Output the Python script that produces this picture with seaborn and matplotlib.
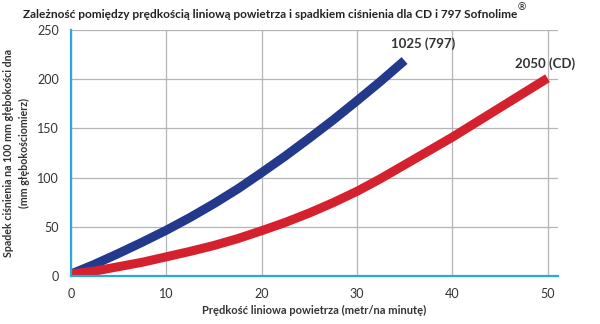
import matplotlib
matplotlib.use("Agg")
import matplotlib.pyplot as plt
import seaborn as sns
import pandas as pd

# Data
blue_x = [0, 2.5, 5, 7.5, 10, 12.5, 15, 17.5, 20, 22.5, 25, 27.5, 30, 32.5, 35]
blue_y = [2, 12, 23, 34.5, 46.5, 59.5, 73.5, 88.5, 105, 122, 140, 158.5, 178, 198, 219]
red_x = [0, 2.5, 5, 7.5, 10, 12.5, 15, 17.5, 20, 22.5, 25, 27.5, 30, 32.5,
         35, 37.5, 40, 42.5, 45, 47.5, 50]
red_y = [2, 5, 9.5, 14, 19.5, 25, 31, 38, 46, 54.5, 64, 74.5, 86, 99,
         113, 127, 141, 156, 171, 186, 201]
series_names = ["1025 (797)", "2050 (CD)"]
x_ticks = [0, 10, 20, 30, 40, 50]
y_ticks = [0, 50, 100, 150, 200, 250]

df = pd.concat([
    pd.DataFrame({"x": blue_x, "y": blue_y, "s": series_names[0]}),
    pd.DataFrame({"x": red_x, "y": red_y, "s": series_names[1]}),
])

sns.set_style("white")
plt.rcParams["font.family"] = ["Lato", "DejaVu Sans"]

fig = plt.figure(figsize=(6, 3.24), dpi=100)
ax = fig.add_axes([71/600, 48/324, (558-71)/600, (276-30)/324])

palette = {series_names[0]: "#22398c", series_names[1]: "#d5212e"}
sns.lineplot(data=df, x="x", y="y", hue="s", palette=palette, ax=ax,
             linewidth=6.5, legend=False, sort=True)
for ln in ax.lines:
    ln.set_solid_capstyle("butt")
    ln.set_solid_joinstyle("round")
    ln.set_zorder(3)

ax.set_xlim(0, 51.1)
ax.set_ylim(0, 250)
ax.set_xticks(x_ticks)
ax.set_yticks(y_ticks)
ax.grid(True, color="#b5b5b5", linewidth=0.9)
ax.set_axisbelow(True)
for side in ["top", "right"]:
    ax.spines[side].set_visible(False)
for side in ["left", "bottom"]:
    ax.spines[side].set_color("#2aa9e0")
    ax.spines[side].set_linewidth(1.6)
    ax.spines[side].set_zorder(4)
ax.tick_params(axis="both", colors="#2aa9e0", width=1.6, length=5,
               labelcolor="#333333", labelsize=9, direction="out")

ax.set_xlabel("Prędkość liniowa powietrza (metr/na minutę)", fontsize=8,
              fontweight="bold", color="#333333", labelpad=4)
ax.set_ylabel("Spadek ciśnienia na 100 mm głębokości dna\n(mm głębokościomierz)",
              fontsize=7.7, fontweight="bold", color="#333333", labelpad=5,
              linespacing=1.6)

ax.text(33.6, 236, series_names[0], fontsize=9.5, fontweight="bold",
        color="#333333", ha="left", va="center")
ax.text(46.6, 216, series_names[1], fontsize=9.5, fontweight="bold",
        color="#333333", ha="left", va="center")

fig.text(270/600, 1 - 14/324,
         "Zależność pomiędzy prędkością liniową powietrza i spadkiem ciśnienia dla CD i 797 Sofnolime",
         fontsize=8.6, fontweight="bold", color="#222222", ha="center", va="center")
fig.text(517/600, 1 - 7/324, "®", fontsize=7.5, color="#222222",
         ha="left", va="center", family=["DejaVu Sans"])

fig.savefig("out.png", dpi=100)
